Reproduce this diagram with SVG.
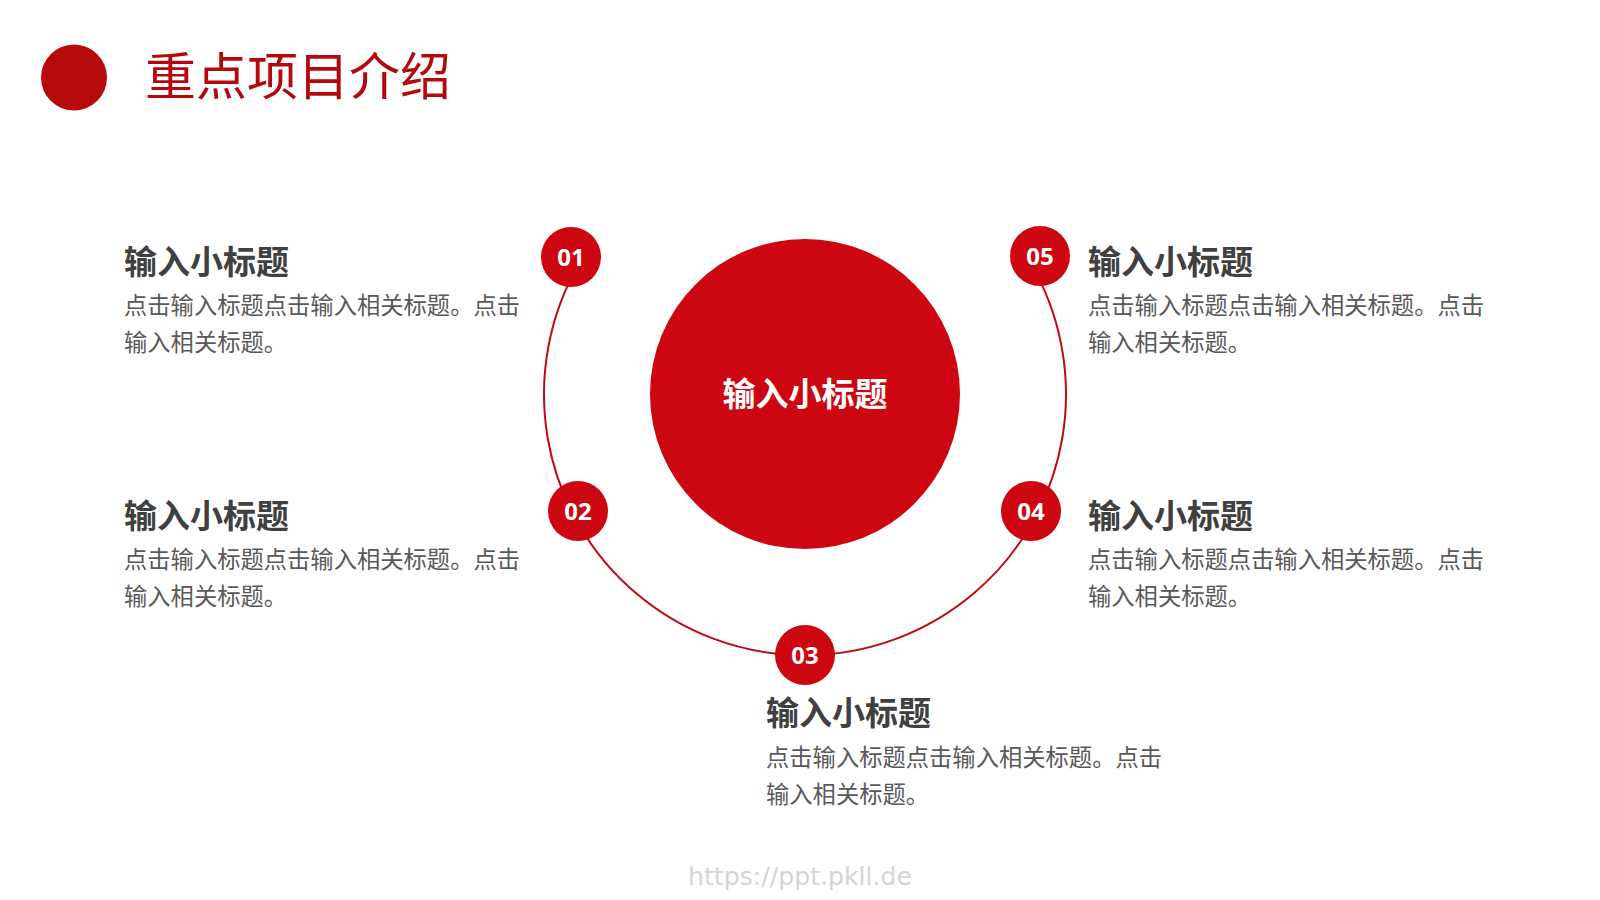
<svg xmlns="http://www.w3.org/2000/svg" width="1600" height="900" viewBox="0 0 1600 900">
  <style>
    .cjk { font-family: "Noto Sans CJK SC", "Noto Sans", sans-serif; }
    .title { font-size: 51px; fill: #B5080E; font-weight: 400; }
    .head { font-size: 33px; font-weight: 700; fill: #404040; }
    .body { font-size: 23.3px; fill: #595959; }
    .center { font-size: 33px; font-weight: 700; fill: #ffffff; }
    .num { font-family: "Noto Sans", "Open Sans", sans-serif; font-size: 24px; font-weight: 700; fill: #ffffff; }
    .dot { fill: #CD0711; }
    .arc { fill: none; stroke: #C00A12; stroke-width: 2; }
    .wm { font-family: "DejaVu Sans", sans-serif; font-size: 24px; fill: #D4D4D4; }
  </style>
  <rect width="1600" height="900" fill="#ffffff"/>

  <g id="header">
    <circle cx="74" cy="77.5" r="33" fill="#B70A0C"/>
    <text class="cjk title" x="145" y="95">重点项目介绍</text>
  </g>

  <g id="connectors">
    <path class="arc" d="M 580 262 A 261 261 0 1 0 1030 262"/>
  </g>

  <g id="center-node">
    <circle class="dot" cx="805" cy="394" r="155"/>
    <text class="cjk center" x="805" y="406" text-anchor="middle">输入小标题</text>
  </g>

  <g id="node-01">
    <circle class="dot" cx="571" cy="257" r="30"/>
    <text class="num" x="571" y="265.5" text-anchor="middle">01</text>
  </g>
  <g id="node-02">
    <circle class="dot" cx="578" cy="511" r="30"/>
    <text class="num" x="578" y="519.5" text-anchor="middle">02</text>
  </g>
  <g id="node-03">
    <circle class="dot" cx="805" cy="655" r="30"/>
    <text class="num" x="805" y="663.5" text-anchor="middle">03</text>
  </g>
  <g id="node-04">
    <circle class="dot" cx="1031" cy="511" r="30"/>
    <text class="num" x="1031" y="519.5" text-anchor="middle">04</text>
  </g>
  <g id="node-05">
    <circle class="dot" cx="1040" cy="256" r="30"/>
    <text class="num" x="1040" y="264.5" text-anchor="middle">05</text>
  </g>

  <g id="text-01">
    <text class="cjk head" x="124" y="274">输入小标题</text>
    <text class="cjk body" x="124" y="314">点击输入标题点击输入相关标题。点击</text>
    <text class="cjk body" x="124" y="351">输入相关标题。</text>
  </g>
  <g id="text-02">
    <text class="cjk head" x="124" y="528">输入小标题</text>
    <text class="cjk body" x="124" y="568">点击输入标题点击输入相关标题。点击</text>
    <text class="cjk body" x="124" y="605">输入相关标题。</text>
  </g>
  <g id="text-03">
    <text class="cjk head" x="766" y="725">输入小标题</text>
    <text class="cjk body" x="766" y="766">点击输入标题点击输入相关标题。点击</text>
    <text class="cjk body" x="766" y="803">输入相关标题。</text>
  </g>
  <g id="text-04">
    <text class="cjk head" x="1088" y="528">输入小标题</text>
    <text class="cjk body" x="1088" y="568">点击输入标题点击输入相关标题。点击</text>
    <text class="cjk body" x="1088" y="605">输入相关标题。</text>
  </g>
  <g id="text-05">
    <text class="cjk head" x="1088" y="274">输入小标题</text>
    <text class="cjk body" x="1088" y="314">点击输入标题点击输入相关标题。点击</text>
    <text class="cjk body" x="1088" y="351">输入相关标题。</text>
  </g>

  <text class="wm" x="688" y="885" textLength="224" lengthAdjust="spacingAndGlyphs">https://ppt.pkll.de</text>
</svg>
